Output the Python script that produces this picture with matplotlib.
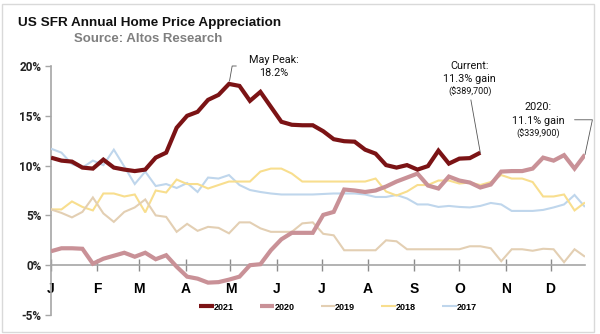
import matplotlib
matplotlib.use("Agg")
import matplotlib.pyplot as plt
import numpy as np

# Weekly year-over-year appreciation (%), one value per week
yoy_2021 = [10.8, 10.5, 10.4, 9.8, 9.7, 10.6, 9.8, 9.6, 9.45, 9.6, 10.8, 11.3, 13.8, 15.0,
            15.4, 16.6, 17.1, 18.2, 18.0, 16.5, 17.4, 15.9, 14.4, 14.1, 14.05, 14.05, 13.45,
            12.65, 12.45, 12.4, 11.6, 11.2, 10.05, 9.8, 10.05, 9.6, 9.95, 11.5, 10.2, 10.7,
            10.75, 11.3]
yoy_2020 = [1.4, 1.7, 1.7, 1.65, 0.15, 0.65, 0.95, 1.25, 0.85, 1.25, 0.6, 1.0, -0.15, -1.15,
            -1.35, -1.75, -1.7, -1.45, -1.15, 0.0, 0.1, 1.5, 2.6, 3.25, 3.25, 3.25, 5.05,
            5.35, 7.6, 7.5, 7.35, 7.5, 7.9, 8.4, 8.8, 9.2, 8.0, 7.7, 8.9, 8.5, 8.3,
            7.8, 8.1, 9.4, 9.45, 9.45, 9.7, 10.8, 10.5, 11.05, 9.7, 11.1]
yoy_2019 = [5.6, 5.25, 4.8, 5.35, 6.8, 5.2, 4.35, 5.35, 5.8, 6.6, 5.0, 4.85, 3.35, 4.15,
            3.45, 3.85, 3.75, 3.2, 4.3, 4.3, 3.7, 3.35, 3.35, 3.35, 4.2, 4.3, 3.15,
            3.0, 1.5, 1.5, 1.5, 1.5, 2.5, 2.4, 1.6, 1.6, 1.6, 1.6, 1.6, 1.6, 1.9,
            1.9, 1.7, 0.4, 1.6, 1.6, 1.45, 1.65, 1.6, 0.3, 1.6, 0.85]
yoy_2018 = [5.6, 5.6, 6.4, 5.85, 5.5, 7.2, 7.2, 6.9, 7.1, 5.3, 7.5, 7.3, 8.6, 8.15,
            8.15, 7.7, 8.05, 8.4, 8.4, 8.4, 9.4, 9.7, 9.7, 9.2, 8.4, 8.4, 8.4,
            8.4, 8.4, 8.4, 8.4, 8.7, 7.4, 7.0, 7.4, 8.05, 8.05, 8.5, 8.5, 8.2, 8.3,
            8.05, 8.35, 9.05, 8.7, 8.7, 8.35, 6.9, 6.9, 7.1, 5.5, 6.3]
yoy_2017 = [11.7, 11.3, 10.15, 9.8, 10.5, 10.05, 11.6, 9.9, 8.15, 9.4, 7.95, 8.15, 7.75, 8.25,
            7.35, 8.8, 8.7, 9.05, 8.05, 7.55, 7.35, 7.2, 7.1, 7.1, 7.1, 7.1, 7.15,
            7.2, 7.2, 7.2, 7.1, 6.85, 6.85, 7.05, 6.7, 6.1, 6.1, 5.85, 5.95, 5.85, 5.8,
            5.95, 6.25, 6.1, 5.45, 5.45, 5.45, 5.55, 5.8, 6.1, 7.05, 5.85]

months = ["J", "F", "M", "A", "M", "J", "J", "A", "S", "O", "N", "D"]
month_start_day = [0, 31, 59, 90, 120, 151, 181, 212, 243, 273, 304, 334]

series = [
    ("2017", yoy_2017, "#bfd6ec", 1.5),
    ("2018", yoy_2018, "#f8de8e", 1.5),
    ("2019", yoy_2019, "#e3cfb3", 1.5),
    ("2020", yoy_2020, "#c99197", 3.0),
    ("2021", yoy_2021, "#7b1315", 3.0),
]

fig = plt.figure(figsize=(6.0, 3.34), dpi=100)
ax = fig.add_axes([51 / 600, 1 - 315 / 334, 534 / 600, 249 / 334])

lines = {}
for z, (name, vals, color, lw) in enumerate(series):
    weeks = np.arange(len(vals))
    (ln,) = ax.plot(weeks, vals, color=color, lw=lw, zorder=3 + z,
                    solid_joinstyle="miter", solid_capstyle="butt")
    lines[name] = ln

ax.set_xlim(0, 51)
ax.set_ylim(-5, 20)

# axes styling: only the left spine and a zero baseline
for s in ["top", "right"]:
    ax.spines[s].set_visible(False)
ax.spines["left"].set_color("#a6a6a6")
ax.spines["left"].set_linewidth(1.2)
ax.spines["bottom"].set_position(("data", 0))
ax.spines["bottom"].set_color("#a6a6a6")
ax.spines["bottom"].set_linewidth(1.2)

ax.set_yticks([-5, 0, 5, 10, 15, 20])
ax.set_yticklabels([f"{v}%" for v in [-5, 0, 5, 10, 15, 20]])
ax.tick_params(axis="y", direction="out", length=4, width=1, color="#a6a6a6",
               labelsize=8.5, pad=3)
for lbl in ax.get_yticklabels():
    lbl.set_fontfamily("Roboto")
    lbl.set_fontweight("bold")
    lbl.set_color("#222222")

ax.set_xticks([d / 7 for d in month_start_day])
ax.set_xticklabels(months)
ax.tick_params(axis="x", direction="inout", length=8, width=1, color="#8c8c8c",
               labelsize=10, pad=8)
for lbl in ax.get_xticklabels():
    lbl.set_fontfamily("Liberation Sans")
    lbl.set_fontweight("bold")

# titles
fig.text(18 / 600, 1 - 23 / 334, "US SFR Annual Home Price Appreciation",
         fontsize=9.7, fontweight="bold", family="Liberation Sans",
         ha="left", va="center", color="#111111")
fig.text(148 / 600, 1 - 39 / 334, "Source: Altos Research",
         fontsize=9.5, fontweight="bold", family="Liberation Sans",
         ha="center", va="center", color="#7f7f7f")

note = dict(family="Roboto", ha="center", va="center", color="#111111")

# callouts
peak_i = int(np.argmax(yoy_2021))
ax.annotate("", xy=(peak_i, yoy_2021[peak_i]), xytext=(17.7, 20.0),
            arrowprops=dict(arrowstyle="-", color="#555555", lw=0.6,
                            shrinkA=0, shrinkB=2,
                            connectionstyle="angle,angleA=0,angleB=80,rad=0"))
ax.text(21.3, 20.6, "May Peak:", fontsize=7.8, **note)
ax.text(21.3, 19.3, f"{yoy_2021[peak_i]}%", fontsize=7.8, **note)

cur_i = len(yoy_2021) - 1
ax.annotate("", xy=(cur_i, yoy_2021[cur_i]), xytext=(40.1, 16.6),
            arrowprops=dict(arrowstyle="-", color="#555555", lw=0.6, shrinkA=0, shrinkB=0))
ax.text(40.0, 20.0, "Current:", fontsize=7.8, **note)
ax.text(40.0, 18.7, f"{yoy_2021[cur_i]}% gain", fontsize=7.8, **note)
ax.text(40.0, 17.4, "($389,700)", fontsize=6.5, **note)

last_i = len(yoy_2020) - 1
ax.annotate("", xy=(last_i, yoy_2020[last_i]), xytext=(50.0, 14.6),
            arrowprops=dict(arrowstyle="-", color="#555555", lw=0.6,
                            shrinkA=0, shrinkB=0,
                            connectionstyle="angle,angleA=0,angleB=78,rad=0"))
ax.text(46.5, 15.9, "2020:", fontsize=7.8, **note)
ax.text(46.5, 14.5, f"{yoy_2020[last_i]}% gain", fontsize=7.8, **note)
ax.text(46.5, 13.2, "($339,900)", fontsize=6.5, **note)

# legend
order = ["2021", "2020", "2019", "2018", "2017"]
leg = fig.legend([lines[k] for k in order], order, loc="center",
                 bbox_to_anchor=(338 / 600, 1 - 307 / 334), ncol=5, frameon=False,
                 handlelength=1.6, handletextpad=0.0, columnspacing=2.9,
                 prop={"family": "Liberation Sans", "weight": "bold", "size": 6.5})

# outer chart border
fig.patches.append(plt.Rectangle((2 / 600, 2 / 334), 592 / 600, 328 / 334,
                                 transform=fig.transFigure, fill=False,
                                 edgecolor="#d9d9d9", lw=1.0))

fig.savefig("out.png", dpi=100)
